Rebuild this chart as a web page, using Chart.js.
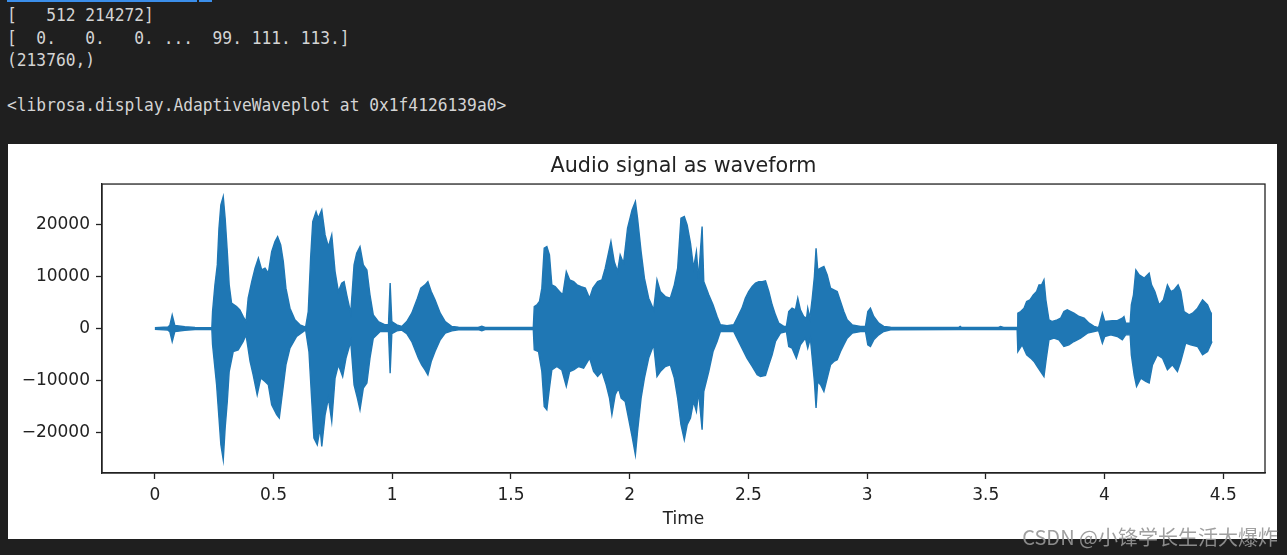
<!DOCTYPE html>
<html>
<head>
<meta charset="utf-8">
<script src="https://cdn.jsdelivr.net/npm/chart.js"></script>
<style>
  html, body { margin: 0; padding: 0; background: #1f1f1f; width: 1287px; height: 555px; overflow: hidden; }
  #out { position: absolute; left: 7px; top: 4px; margin: 0; font-family: "DejaVu Sans Mono", monospace; font-size: 17.4px; line-height: 22.5px; color: #d4d4d4; white-space: pre; transform: scaleX(0.935); transform-origin: 0 0; }
  .link { position: absolute; top: 0; height: 2px; background: #3b8eea; }
  #fig { position: absolute; left: 8px; top: 144px; width: 1269px; height: 395px; background: #fff; }
  #wm { position: absolute; right: 9px; top: 522px; font-family: "Noto Sans CJK SC", sans-serif; font-size: 20px; color: rgba(150,150,150,0.9); white-space: nowrap; }
</style>
</head>
<body>
<div class="link" style="left:7px;width:190px"></div>
<div class="link" style="left:199px;width:13px"></div>
<pre id="out">[   512 214272]
[  0.   0.   0. ...  99. 111. 113.]
(213760,)

&lt;librosa.display.AdaptiveWaveplot at 0x1f4126139a0&gt;</pre>
<div id="fig"><canvas id="wave" width="1269" height="395"></canvas></div>
<div id="wm">CSDN @小锋学长生活大爆炸</div>
<script>
// upper envelope of the waveform (seconds, amplitude)
const hiTime = [0,0.055,0.063,0.073,0.084,0.126,0.169,0.240,0.243,0.253,0.263,0.270,0.278,0.288,0.296,0.305,0.313,0.323,0.344,0.358,
  0.372,0.384,0.393,0.408,0.422,0.436,0.450,0.464,0.478,0.492,0.506,0.517,0.530,0.541,0.552,0.569,0.590,0.611,0.635,0.646,
  0.656,0.665,0.679,0.688,0.703,0.717,0.731,0.745,0.759,0.773,0.787,0.797,0.808,0.825,0.839,0.850,0.864,0.878,0.893,0.906,
  0.920,0.941,0.970,0.984,0.991,0.998,1.019,1.040,1.061,1.082,1.106,1.120,1.138,1.150,1.164,1.180,1.202,1.223,1.251,1.279,
  1.362,1.377,1.391,1.594,1.598,1.609,1.620,1.630,1.640,1.651,1.662,1.672,1.686,1.704,1.718,1.733,1.747,1.764,1.778,1.795,
  1.813,1.831,1.845,1.865,1.883,1.897,1.909,1.921,1.935,1.949,1.960,1.974,1.991,2.010,2.024,2.033,2.048,2.062,2.080,2.101,
  2.115,2.129,2.150,2.171,2.188,2.202,2.216,2.230,2.242,2.256,2.269,2.281,2.290,2.305,2.312,2.333,2.351,2.368,2.382,2.410,
  2.438,2.452,2.473,2.487,2.501,2.516,2.530,2.544,2.558,2.572,2.586,2.600,2.614,2.628,2.649,2.660,2.670,2.684,2.698,2.708,
  2.719,2.733,2.745,2.750,2.759,2.769,2.778,2.785,2.792,2.804,2.818,2.832,2.846,2.860,2.874,2.888,2.902,2.916,2.937,2.972,
  2.993,3.003,3.014,3.028,3.049,3.070,3.099,3.385,3.392,3.398,3.554,3.562,3.575,3.632,3.635,3.647,3.661,3.672,3.686,3.700,
  3.714,3.724,3.735,3.745,3.753,3.766,3.780,3.801,3.815,3.829,3.843,3.858,3.871,3.893,3.914,3.935,3.956,3.975,3.991,4.001,
  4.033,4.054,4.075,4.082,4.089,4.108,4.113,4.122,4.132,4.146,4.167,4.188,4.198,4.212,4.230,4.248,4.265,4.279,4.293,4.310,
  4.321,4.335,4.356,4.371,4.392,4.413,4.434,4.448,4.453];
const hiAmp = [150,300,600,2600,600,350,200,150,3260,8370,12200,19230,23700,25300,21150,14750,8370,4870,4210,3580,
  2300,1340,5820,9000,11570,13480,11240,11570,10610,14750,16670,17620,16030,12830,7740,3900,1670,710,270,3260,
  13480,20500,22400,21150,22740,17950,15710,17950,10920,7090,8700,9000,6460,2950,12200,14440,15710,12200,11240,6460,
  2620,1340,710,710,8700,1340,710,400,1340,2950,5820,7740,8370,9000,7090,5500,2950,1340,380,250,
  200,450,200,200,4210,4530,5170,7740,15400,15710,14120,8370,8050,7090,6460,10920,9330,9000,8370,8050,
  7740,5820,7740,9000,9330,11570,14120,16670,12830,10920,14120,12520,19230,22740,24330,21150,14750,9650,5820,3580,
  9330,7090,6130,5820,8370,11570,21150,21460,19870,16360,11570,14750,9650,19550,9000,6460,4540,2300,710,550,
  710,1980,3900,5820,7090,8050,8700,9000,9000,9130,7090,4540,2620,1020,400,400,3260,3900,3580,5820,
  3580,2300,1980,3900,1980,5820,9970,15400,11240,11570,11880,10290,7740,7410,7090,5170,3260,1670,710,400,
  400,3260,3900,2300,1020,400,250,200,400,200,200,400,200,200,2950,3260,3900,5170,5500,6460,
  7090,8370,8370,9330,5500,1670,1340,1670,1980,3260,3580,3260,2950,2300,1980,1020,400,150,2950,1340,
  1500,1500,1980,2300,1020,1020,4540,6460,11240,10290,9650,10610,8370,7090,4540,5500,8370,7090,7410,8370,
  7090,3260,2620,2950,3900,5500,4540,2950,2950];

// lower envelope of the waveform (seconds, amplitude)
const loTime = [0,0.055,0.063,0.073,0.084,0.126,0.169,0.240,0.243,0.260,0.270,0.278,0.288,0.296,0.305,0.313,0.330,0.351,0.372,0.384,
  0.401,0.414,0.431,0.446,0.464,0.478,0.492,0.513,0.524,0.538,0.552,0.569,0.597,0.635,0.649,0.661,0.670,0.684,0.696,0.703,
  0.717,0.731,0.745,0.759,0.773,0.791,0.805,0.825,0.839,0.853,0.864,0.878,0.893,0.906,0.920,0.949,0.984,0.991,0.998,1.019,
  1.040,1.061,1.082,1.110,1.124,1.138,1.150,1.164,1.180,1.202,1.223,1.251,1.279,1.362,1.377,1.391,1.594,1.598,1.616,1.630,
  1.640,1.651,1.662,1.672,1.693,1.714,1.733,1.747,1.764,1.785,1.806,1.831,1.848,1.865,1.883,1.901,1.915,1.925,1.939,1.953,
  1.964,1.981,1.995,2.010,2.024,2.033,2.048,2.062,2.080,2.101,2.115,2.129,2.150,2.171,2.188,2.202,2.216,2.230,2.242,2.256,
  2.269,2.281,2.290,2.305,2.312,2.333,2.351,2.368,2.382,2.438,2.452,2.473,2.494,2.516,2.537,2.551,2.572,2.586,2.600,2.614,
  2.635,2.660,2.670,2.684,2.702,2.719,2.740,2.750,2.761,2.769,2.778,2.785,2.792,2.804,2.818,2.832,2.846,2.860,2.874,2.888,
  2.902,2.916,2.937,2.972,2.993,3.003,3.014,3.028,3.049,3.070,3.099,3.385,3.632,3.635,3.653,3.672,3.689,3.703,3.717,3.731,
  3.745,3.755,3.766,3.787,3.808,3.829,3.850,3.871,3.899,3.928,3.956,3.975,3.991,4.001,4.026,4.054,4.075,4.089,4.108,4.113,
  4.125,4.135,4.153,4.174,4.188,4.202,4.223,4.244,4.265,4.286,4.307,4.321,4.342,4.363,4.392,4.413,4.434,4.453];
const loAmp = [-150,-300,-600,-2500,-600,-350,-200,-150,-3120,-10790,-17160,-22280,-25150,-19080,-13980,-8240,-4410,-4080,-2490,-1210,
  -6320,-8870,-12700,-9500,-10150,-10790,-14620,-16530,-17160,-12070,-6960,-3760,-1530,-250,-4410,-13980,-21000,-22280,-19080,-22600,
  -16530,-13340,-17800,-9500,-6960,-9200,-5670,-2490,-10790,-13340,-15580,-11420,-10460,-5670,-1850,-570,-570,-8550,-1000,-450,
  -300,-1000,-2490,-5670,-6960,-7920,-8870,-6320,-4410,-2170,-890,-450,-250,-200,-450,-200,-200,-4080,-4410,-8240,
  -14940,-15580,-11420,-7920,-7280,-7920,-11100,-8240,-7920,-7280,-7600,-5670,-8240,-9200,-8240,-10790,-13340,-16530,-12700,-11420,
  -13340,-13980,-17160,-20690,-24200,-19720,-13340,-9500,-5670,-3120,-9200,-8240,-7280,-6960,-9500,-13340,-18450,-21320,-18450,-17160,
  -13980,-15900,-12070,-19400,-12070,-8240,-4410,-2490,-570,-570,-1850,-3760,-5670,-7280,-8870,-9200,-9000,-6960,-5040,-2490,
  -890,-570,-3440,-3760,-5670,-3120,-1850,-3760,-1850,-5670,-10150,-15250,-10150,-10790,-12070,-9500,-6960,-6320,-6000,-4410,
  -3120,-1850,-890,-570,-570,-3120,-3440,-2170,-1210,-570,-250,-200,-200,-4410,-3120,-5040,-5670,-6320,-7280,-8240,
  -9200,-5670,-2170,-1850,-2170,-3440,-3120,-2490,-1850,-890,-570,-400,-2810,-1530,-1210,-1530,-2170,-1210,-1210,-5040,
  -8870,-11100,-9500,-10150,-10460,-6960,-5040,-5670,-7920,-6960,-8240,-6320,-2810,-3120,-3440,-5040,-4410,-2490];

const xTicks = [0, 0.5, 1, 1.5, 2, 2.5, 3, 3.5, 4, 4.5];
const yTicks = [-20000, -10000, 0, 10000, 20000];

const blue = '#1f77b4';
const ink = '#222222';
const tickFont = { family: 'DejaVu Sans', size: 17 };

function toPoints(ts, vs) {
  return ts.map((t, i) => ({ x: t, y: vs[i] }));
}

// matplotlib draws a full box round the axes
const axesFrame = {
  id: 'axesFrame',
  afterDatasetsDraw(chart) {
    const { ctx, chartArea: a } = chart;
    ctx.save();
    ctx.strokeStyle = ink;
    ctx.lineWidth = 1.3;
    ctx.strokeRect(a.left, a.top, a.right - a.left, a.bottom - a.top);
    ctx.restore();
  }
};

const wave = { borderColor: blue, backgroundColor: blue, borderWidth: 1.4, pointRadius: 0, tension: 0 };

new Chart(document.getElementById('wave'), {
  type: 'line',
  data: {
    datasets: [
      Object.assign({ label: 'upper', data: toPoints(hiTime, hiAmp), fill: false }, wave),
      // filled up to the upper envelope, so no seam shows at zero
      Object.assign({ label: 'lower', data: toPoints(loTime, loAmp), fill: '-1' }, wave)
    ]
  },
  options: {
    responsive: false,
    animation: false,
    layout: { padding: { left: 0, right: 12, top: 0, bottom: 0 } },
    plugins: {
      legend: { display: false },
      tooltip: { enabled: false },
      title: {
        display: true,
        fullSize: false,
        text: 'Audio signal as waveform',
        color: ink,
        font: { family: 'DejaVu Sans', size: 20.7, weight: 'normal' },
        padding: { top: 10, bottom: 5.2 }
      }
    },
    scales: {
      x: {
        type: 'linear',
        min: -0.2227,
        max: 4.676,
        afterBuildTicks: axis => { axis.ticks = xTicks.map(v => ({ value: v })); },
        afterFit: s => { s.height = 66; },
        ticks: { color: ink, font: tickFont, padding: 6, maxRotation: 0, autoSkip: false, callback: v => String(v) },
        grid: { drawOnChartArea: false, drawTicks: true, tickLength: 6, tickColor: ink, tickWidth: 1.3 },
        border: { display: true, color: ink, width: 1.3 },
        title: { display: true, text: 'Time', color: ink, font: tickFont, padding: { top: 0, bottom: 9 } }
      },
      y: {
        min: -27700,
        max: 27700,
        afterBuildTicks: axis => { axis.ticks = yTicks.map(v => ({ value: v })); },
        afterFit: s => { s.width = 94; },
        ticks: { color: ink, font: tickFont, padding: 6, callback: v => (v < 0 ? '\u2212' + Math.abs(v) : String(v)) },
        grid: { drawOnChartArea: false, drawTicks: true, tickLength: 6, tickColor: ink, tickWidth: 1.3 },
        border: { display: true, color: ink, width: 1.3 }
      }
    }
  },
  plugins: [axesFrame]
});
</script>
</body>
</html>
